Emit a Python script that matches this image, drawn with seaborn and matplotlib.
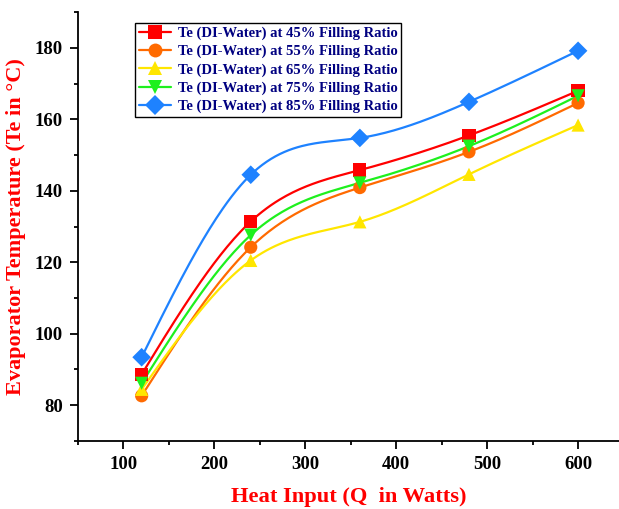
import numpy as np
import pandas as pd
import seaborn as sns
import matplotlib.pyplot as plt
from matplotlib.lines import Line2D
from matplotlib.ticker import MultipleLocator

heat = [120, 240, 360, 480, 600]
te_45 = [88.6, 131.4, 145.8, 155.5, 168.0]
te_55 = [82.6, 124.2, 140.9, 150.9, 164.6]
te_65 = [84.4, 120.5, 131.3, 144.6, 158.4]
te_75 = [86.1, 127.6, 142.2, 152.5, 166.6]
te_85 = [93.4, 144.5, 154.8, 164.9, 179.2]

labels = ["Te (DI-Water) at 45% Filling Ratio",
          "Te (DI-Water) at 55% Filling Ratio",
          "Te (DI-Water) at 65% Filling Ratio",
          "Te (DI-Water) at 75% Filling Ratio",
          "Te (DI-Water) at 85% Filling Ratio"]
colors = ["#FF0000", "#FF6A00", "#FFE600", "#1EF01E", "#1E82FF"]
markers = ["s", "o", "^", "v", "D"]


def natural_spline(x, y, n=200):
    # plain natural cubic spline, just to draw the smooth connecting line
    x = np.asarray(x, float)
    y = np.asarray(y, float)
    k = len(x)
    h = np.diff(x)
    A = np.zeros((k, k))
    b = np.zeros(k)
    A[0, 0] = A[-1, -1] = 1
    for i in range(1, k - 1):
        A[i, i - 1] = h[i - 1]
        A[i, i] = 2 * (h[i - 1] + h[i])
        A[i, i + 1] = h[i]
        b[i] = 6 * ((y[i + 1] - y[i]) / h[i] - (y[i] - y[i - 1]) / h[i - 1])
    m = np.linalg.solve(A, b)
    xs = np.linspace(x[0], x[-1], n)
    idx = np.clip(np.searchsorted(x, xs) - 1, 0, k - 2)
    x0, x1 = x[idx], x[idx + 1]
    hh = x1 - x0
    t0, t1 = x1 - xs, xs - x0
    ys = (m[idx] * t0**3 + m[idx + 1] * t1**3) / (6 * hh) \
        + (y[idx] / hh - m[idx] * hh / 6) * t0 \
        + (y[idx + 1] / hh - m[idx + 1] * hh / 6) * t1
    return xs, ys


sns.set_style("ticks")
plt.rcParams["font.family"] = ["Liberation Serif", "DejaVu Serif"]
plt.rcParams["font.weight"] = "bold"

fig = plt.figure(figsize=(6.19, 5.09), dpi=100)
ax = fig.add_axes([0.126, 0.134, 0.874, 0.842])

series = [te_45, te_55, te_65, te_75, te_85]
handles = []
for vals, lab, c, mk in zip(series, labels, colors, markers):
    xs, ys = natural_spline(heat, vals)
    sns.lineplot(x=xs, y=ys, color=c, lw=1.6, ax=ax, legend=False)
    pts = pd.DataFrame({"x": heat, "y": vals})
    sns.scatterplot(data=pts, x="x", y="y", marker=mk, color=c, s=90,
                    edgecolor="none", ax=ax, legend=False, zorder=3)
    handles.append(Line2D([], [], color=c, lw=1.6, marker=mk, markersize=10,
                          markeredgewidth=0, label=lab))

ax.set_xlim(50, 645)
ax.set_ylim(70, 190)
ax.xaxis.set_major_locator(MultipleLocator(100))
ax.xaxis.set_minor_locator(MultipleLocator(50))
ax.yaxis.set_major_locator(MultipleLocator(20))
ax.yaxis.set_minor_locator(MultipleLocator(10))
ax.tick_params(which="major", length=6, width=1.3, labelsize=13.5, pad=5,
               color="black", labelcolor="black")
ax.tick_params(which="minor", length=3, width=1.3, color="black")
for lbl in ax.get_xticklabels() + ax.get_yticklabels():
    lbl.set_fontweight("bold")
sns.despine(ax=ax)
for side in ["left", "bottom"]:
    ax.spines[side].set_linewidth(1.3)
    ax.spines[side].set_color("black")

ax.set_xlabel("Heat Input (Q  in Watts)", color="red", fontsize=16.2,
              fontweight="bold", labelpad=10)
ax.set_ylabel("Evaporator Temperature (Te in \u00b0C)", color="red",
              fontsize=16, fontweight="bold", labelpad=6)

leg = ax.legend(handles=handles, loc="upper left",
                bbox_to_anchor=(0.218, 0.955), bbox_transform=fig.transFigure,
                fontsize=10.5, frameon=True, fancybox=False, framealpha=1,
                edgecolor="black", handlelength=2.2, labelspacing=0.33,
                borderpad=0.25, handletextpad=0.5, borderaxespad=0)
leg.get_frame().set_linewidth(1.0)
for t in leg.get_texts():
    t.set_color("#000080")
    t.set_fontweight("bold")

fig.savefig("out.png", dpi=100)
